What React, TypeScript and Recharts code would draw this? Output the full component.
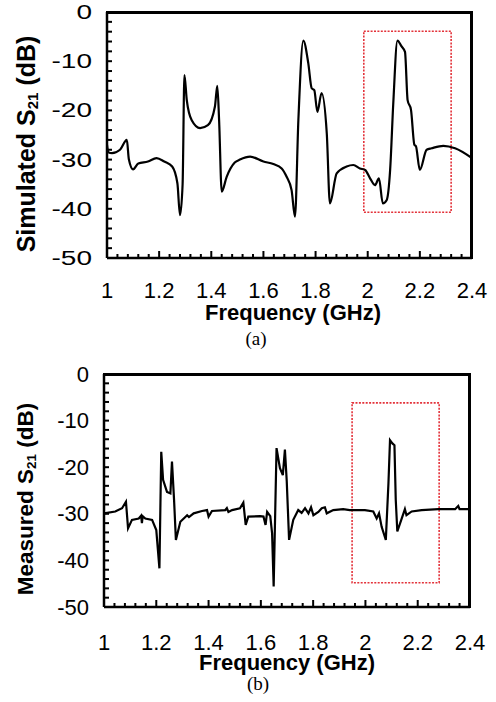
import React from 'react';
import { LineChart, Line, XAxis, YAxis, ReferenceArea } from 'recharts';

// simulated S21 (a)
const simFreq = [
	1.0, 1.005, 1.019, 1.05, 1.076, 1.084, 1.1, 1.12, 1.157, 1.19, 1.22, 1.25, 1.27, 1.28, 1.29, 1.297,
	1.306, 1.325, 1.357, 1.387, 1.414, 1.423, 1.43, 1.44, 1.459, 1.49, 1.51, 1.549, 1.6, 1.638, 1.67,
	1.689, 1.708, 1.721, 1.734, 1.753, 1.772, 1.785, 1.795, 1.807, 1.823, 1.843, 1.855, 1.881, 1.919,
	1.945, 1.97, 1.99, 2.009, 2.028, 2.043, 2.058, 2.073, 2.086, 2.098, 2.114, 2.13, 2.143, 2.153,
	2.166, 2.179, 2.185, 2.2, 2.226, 2.245, 2.29, 2.335, 2.4,
];
const simS21 = [
	-27.0, -28.5, -28.7, -28.0, -26.0, -30.0, -32.0, -30.8, -30.4, -29.7, -30.4, -31.4, -34.8, -41.3, -35.0, -12.8,
	-17.9, -22.0, -23.6, -23.0, -19.2, -15.0, -22.0, -36.5, -33.5, -30.6, -30.0, -29.4, -30.4, -30.9, -31.8,
	-33.5, -36.2, -41.6, -22.0, -5.8, -10.4, -15.5, -15.9, -20.3, -16.5, -24.7, -38.9, -32.8, -31.4,
	-31.1, -31.8, -32.1, -33.8, -35.2, -33.8, -38.9, -38.2, -32.1, -18.6, -5.8, -7.0, -8.1, -17.9,
	-19.9, -27.0, -27.3, -32.1, -28.0, -27.7, -27.2, -27.7, -29.7,
];

// measured S21 (b)
const measFreq = [
	1.0, 1.043, 1.069, 1.084, 1.092, 1.107, 1.133, 1.142, 1.145, 1.148, 1.158, 1.184, 1.2, 1.212, 1.219,
	1.226, 1.241, 1.254, 1.26, 1.268, 1.275, 1.292, 1.318, 1.325, 1.343, 1.375, 1.394, 1.4, 1.413, 1.464,
	1.47, 1.476, 1.49, 1.52, 1.533, 1.542, 1.552, 1.597, 1.61, 1.618, 1.624, 1.636, 1.643, 1.649, 1.66,
	1.673, 1.684, 1.692, 1.699, 1.708, 1.724, 1.743, 1.756, 1.769, 1.782, 1.792, 1.801, 1.82, 1.833,
	1.845, 1.852, 1.877, 1.915, 1.94, 1.979, 1.998, 2.03, 2.043, 2.052, 2.062, 2.078, 2.088, 2.094,
	2.103, 2.111, 2.116, 2.122, 2.139, 2.151, 2.157, 2.177, 2.215, 2.279, 2.343, 2.355, 2.36, 2.4,
];
const measS21 = [
	-29.9, -29.5, -28.8, -27.4, -33.1, -31.3, -31.0, -30.4, -32.0, -30.5, -31.0, -31.3, -33.5, -41.7, -16.7,
	-22.7, -25.3, -25.6, -18.8, -27.0, -35.6, -31.7, -30.3, -30.7, -29.9, -29.4, -29.2, -30.6, -29.4, -29.2,
	-28.8, -29.6, -29.2, -28.8, -27.6, -32.4, -30.6, -30.5, -30.6, -32.4, -29.6, -30.5, -34.2, -45.6, -15.9,
	-20.2, -21.7, -16.2, -23.0, -35.6, -31.3, -29.2, -29.8, -28.8, -29.9, -28.6, -30.3, -29.6, -28.8,
	-28.6, -29.9, -29.2, -29.0, -29.2, -29.2, -29.2, -29.5, -31.0, -29.9, -32.8, -35.6, -23.5, -14.2,
	-14.9, -15.3, -27.0, -33.8, -31.0, -29.0, -30.3, -29.5, -29.2, -29.0, -29.0, -28.3, -29.0, -29.0,
];

const xTicks = Array.from({ length: 36 }, (_, i) => Math.round((1 + i * 0.04) * 100) / 100);
const yTicks = Array.from({ length: 26 }, (_, i) => -50 + i * 2);

const simData = simFreq.map((f, i) => ({ f, s21: simS21[i] }));
const measData = measFreq.map((f, i) => ({ f, s21: measS21[i] }));

const FONT = '"Liberation Sans", Arial, sans-serif';
const W = 496;

const XTick = (props: any) => {
	const { x, y, payload, gap } = props;
	const v = payload.value;
	const major = Math.abs(v * 5 - Math.round(v * 5)) < 1e-6;
	return (
		<g>
			<path d={`M${x},${y}V${y - (major ? 7 : 4)}`} stroke="#000" strokeWidth={2} fill="none" />
			{major && (
				<text x={x} y={y + gap} textAnchor="middle" dominantBaseline="central" fontSize={22} fontFamily={FONT} fill="#000">
					{String(Math.round(v * 10) / 10)}
				</text>
			)}
		</g>
	);
};

const YTick = (props: any) => {
	const { x, y, payload, stretch, size } = props;
	const v = payload.value;
	const major = v % 10 === 0;
	return (
		<g>
			<path d={`M${x},${y}H${x + 5}`} stroke="#000" strokeWidth={2} fill="none" />
			{major && (
				<text
					transform={`translate(${x - 15},${y}) scale(${stretch},1)`}
					textAnchor="end"
					dominantBaseline="central"
					fontSize={size}
					fontFamily={FONT}
					fill="#000"
				>
					{v}
				</text>
			)}
		</g>
	);
};

const frameLine = { stroke: '#000', strokeWidth: 2.5 };

function Panel(props: {
	data: { f: number; s21: number }[];
	top: number;
	height: number;
	margin: { top: number; right: number; bottom: number; left: number };
	gap: number;
	stretch: number;
	ySize: number;
	curve: 'monotone' | 'linear';
	box: { x1: number; x2: number; y1: number; y2: number };
}) {
	const { data, top, height, margin, gap, stretch, ySize, curve, box } = props;
	const plotLeft = margin.left + 60;
	const plotW = W - plotLeft - margin.right;
	const plotH = height - margin.top - margin.bottom - 30;
	return (
		<div style={{ position: 'absolute', left: 0, top, width: W, height }}>
			<LineChart width={W} height={height} data={data} margin={margin}>
				<XAxis
					dataKey="f"
					type="number"
					domain={[1, 2.4]}
					ticks={xTicks}
					interval={0}
					height={30}
					tickSize={0}
					tickMargin={0}
					tickLine={false}
					axisLine={frameLine}
					tick={(p: any) => <XTick {...p} gap={gap} />}
				/>
				<YAxis
					type="number"
					domain={[-50, 0]}
					ticks={yTicks}
					interval={0}
					width={60}
					tickSize={0}
					tickMargin={0}
					tickLine={false}
					axisLine={frameLine}
					tick={(p: any) => <YTick {...p} stretch={stretch} size={ySize} />}
				/>
				<ReferenceArea
					x1={box.x1}
					x2={box.x2}
					y1={box.y1}
					y2={box.y2}
					fill="none"
					fillOpacity={0}
					stroke="#e3323a"
					strokeWidth={1.6}
					strokeDasharray="2 1.4"
				/>
				<Line type={curve} dataKey="s21" stroke="#000" strokeWidth={2.2} dot={false} isAnimationActive={false} />
			</LineChart>
			{/* plot frame: top and right edges */}
			<div
				style={{
					position: 'absolute',
					zIndex: 5,
					left: plotLeft - 1,
					top: margin.top - 1,
					width: plotW + 2,
					height: plotH + 2,
					borderTop: '3px solid #000',
					borderRight: '3px solid #000',
					boxSizing: 'border-box',
					pointerEvents: 'none',
				}}
			/>
		</div>
	);
}

const yLabelStyle = (left: number, top: number, size: number): React.CSSProperties => ({
	position: 'absolute',
	left,
	top,
	transform: 'translate(-50%,-50%) rotate(-90deg)',
	whiteSpace: 'nowrap',
	fontWeight: 700,
	fontSize: size,
	lineHeight: 1,
	fontFamily: FONT,
});

const xLabelStyle = (center: number, top: number): React.CSSProperties => ({
	position: 'absolute',
	left: center,
	top,
	transform: 'translate(-50%,-50%)',
	whiteSpace: 'nowrap',
	fontWeight: 700,
	fontSize: 22,
	lineHeight: 1,
	fontFamily: FONT,
});

const capStyle = (center: number, top: number): React.CSSProperties => ({
	position: 'absolute',
	left: center,
	top,
	transform: 'translate(-50%,-50%)',
	fontSize: 19,
	lineHeight: 1,
	fontFamily: '"Liberation Serif", "Times New Roman", serif',
});

const subStyle: React.CSSProperties = { fontSize: '0.6em', verticalAlign: '-0.25em' };

export default function App() {
	return (
		<div style={{ position: 'absolute', left: 0, top: 0, width: W, height: 702, background: '#fff' }}>
			<Panel
				data={simData}
				top={0}
				height={310}
				margin={{ top: 12, right: 24, bottom: 22, left: 47 }}
				gap={32}
				stretch={1.4}
				ySize={20}
				curve="monotone"
				box={{ x1: 1.985, x2: 2.32, y1: -40.7, y2: -3.9 }}
			/>
			<Panel
				data={measData}
				top={340}
				height={320}
				margin={{ top: 34, right: 26, bottom: 23, left: 44 }}
				gap={35}
				stretch={1}
				ySize={22}
				curve="linear"
				box={{ x1: 1.949, x2: 2.282, y1: -44.8, y2: -6.2 }}
			/>
			<div style={yLabelStyle(27, 144, 25)}>
				Simulated S<span style={subStyle}>21</span> (dB)
			</div>
			<div style={yLabelStyle(27, 499, 22.5)}>
				Measured S<span style={subStyle}>21</span> (dB)
			</div>
			<div style={xLabelStyle(293, 313)}>Frequency (GHz)</div>
			<div style={xLabelStyle(287, 663)}>Frequency (GHz)</div>
			<div style={capStyle(256, 338)}>(a)</div>
			<div style={capStyle(258, 683)}>(b)</div>
		</div>
	);
}
